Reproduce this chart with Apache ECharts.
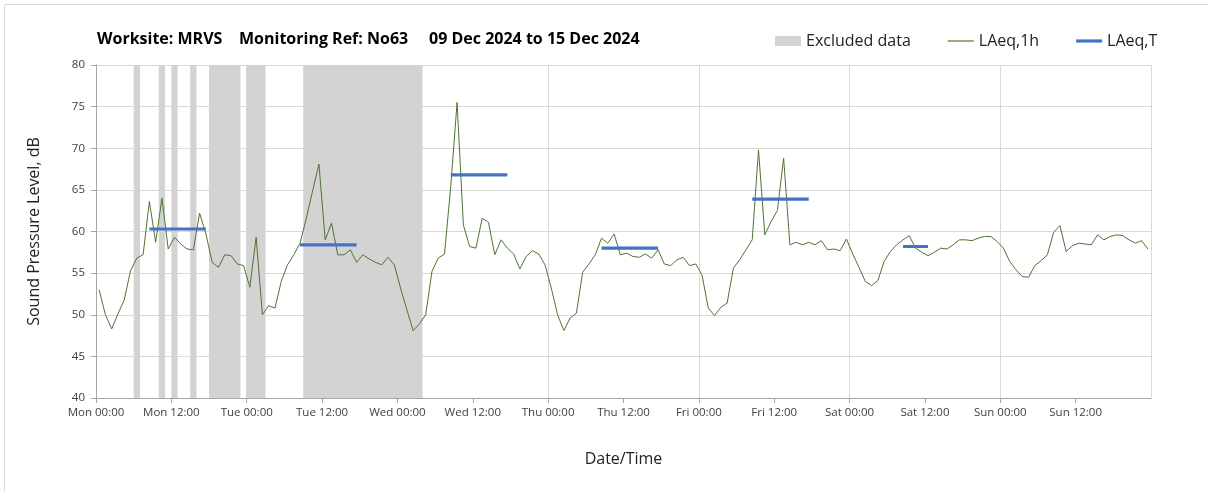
<!DOCTYPE html>
<html>
<head>
<meta charset="utf-8">
<script src="https://cdn.jsdelivr.net/npm/echarts@6/dist/echarts.min.js"></script>
<style>
html,body{margin:0;padding:0;background:#fff;}
#chart{width:1208px;height:492px;}
</style>
</head>
<body>
<div id="chart"></div>
<script>
// ---- data ----
const dayNames = ['Mon', 'Tue', 'Wed', 'Thu', 'Fri', 'Sat', 'Sun'];
const yTicks = [40, 45, 50, 55, 60, 65, 70, 75, 80];
// hourly LAeq,1h values, hour index 0..167 from Mon 00:00
const laeq1h = [
  53.0, 50.0, 48.3, 50.1, 51.8, 55.3, 56.8, 57.2, 63.6, 58.7,
  64.0, 57.9, 59.3, 58.5, 57.9, 57.8, 62.2, 59.7, 56.3, 55.7,
  57.2, 57.1, 56.1, 55.9, 53.3, 59.3, 50.0, 51.1, 50.8, 54.0,
  56.0, 57.2, 58.6, 61.6, 64.9, 68.1, 59.0, 61.0, 57.2, 57.2,
  57.8, 56.3, 57.2, 56.7, 56.3, 56.0, 56.9, 56.0, 53.2, 50.6,
  48.1, 48.9, 50.0, 55.2, 56.8, 57.3, 65.5, 75.5, 60.8, 58.2,
  58.0, 61.6, 61.1, 57.2, 59.0, 58.0, 57.3, 55.5, 57.0, 57.7,
  57.3, 56.0, 53.2, 50.0, 48.1, 49.6, 50.2, 55.1, 56.1, 57.2,
  59.2, 58.6, 59.7, 57.2, 57.4, 57.0, 56.9, 57.3, 56.8, 57.8,
  56.1, 55.9, 56.6, 56.9, 55.9, 56.1, 54.8, 50.8, 49.9, 50.9,
  51.4, 55.6, 56.6, 57.8, 59.0, 69.8, 59.6, 61.2, 62.5, 68.8,
  58.4, 58.7, 58.4, 58.7, 58.4, 58.9, 57.8, 57.9, 57.7, 59.1,
  57.3, 55.7, 54.0, 53.5, 54.1, 56.4, 57.6, 58.4, 59.0, 59.5,
  58.0, 57.5, 57.1, 57.5, 58.0, 57.9, 58.4, 59.0, 59.0, 58.9,
  59.2, 59.4, 59.4, 58.8, 58.0, 56.4, 55.4, 54.6, 54.5, 55.9,
  56.5, 57.2, 59.9, 60.7, 57.6, 58.3, 58.6, 58.5, 58.4, 59.6,
  59.0, 59.4, 59.6, 59.5, 59.0, 58.6, 58.9, 57.9
];
// excluded periods [startHour, endHour]
const excludedRanges = [[6, 7], [10, 11], [12, 13], [15, 16], [18, 23], [24, 27], [33, 52]];
// LAeq,T periods
const laeqTStart = [8.5, 32.5, 56.5, 80.5, 104.5, 128.5];
const laeqTEnd = [17.5, 41.5, 65.5, 89.5, 113.5, 132.5];
const laeqTValue = [60.3, 58.4, 66.8, 58.0, 63.9, 58.2];

// ---- chart ----
const FONT = 'Open Sans';
const chart = echarts.init(document.getElementById('chart'));

const lineData = laeq1h.map((v, i) => [i + 0.5, v]);

const tSeries = laeqTValue.map((v, k) => ({
  name: 'LAeq,T',
  type: 'line',
  xAxisIndex: 0,
  symbol: 'none',
  showSymbol: false,
  silent: true,
  z: 4,
  lineStyle: { color: '#4472C4', width: 3.2 },
  itemStyle: { color: '#4472C4' },
  data: [[laeqTStart[k], v], [laeqTEnd[k], v]]
}));

const option = {
  animation: false,
  backgroundColor: '#ffffff',
  textStyle: { fontFamily: FONT },
  graphic: [{
    type: 'rect',
    shape: { x: 4.5, y: 4.5, width: 1220, height: 520 },
    style: { fill: 'none', stroke: '#d9d9d9', lineWidth: 1 },
    silent: true, z: -10
  }],
  title: {
    text: 'Worksite: MRVS    Monitoring Ref: No63     09 Dec 2024 to 15 Dec 2024',
    left: 92, top: 26,
    textStyle: { fontFamily: FONT, fontSize: 16, fontWeight: 'bold', color: '#000' }
  },
  legend: {
    left: 770, top: 28,
    itemWidth: 26, itemHeight: 10, itemGap: 37,
    textStyle: { fontFamily: FONT, fontSize: 16, color: '#222', padding: [0, 0, 0, 0] },
    data: [
      { name: 'Excluded data', icon: 'rect' },
      { name: 'LAeq,1h', icon: 'path://M0,0h26v1.2h-26z' },
      { name: 'LAeq,T', icon: 'path://M0,0h26v3.2h-26z' }
    ]
  },
  grid: { left: 96, right: 57, top: 65, bottom: 94, containLabel: false },
  xAxis: [{
    type: 'value', min: 0, max: 168, interval: 12,
    name: 'Date/Time', nameLocation: 'middle', nameGap: 53,
    nameTextStyle: { fontFamily: FONT, fontSize: 16, color: '#222' },
    axisLine: { show: true, lineStyle: { color: '#a6a6a6', width: 1 } },
    axisTick: { show: true, length: 5, lineStyle: { color: '#a6a6a6' } },
    axisLabel: {
      fontFamily: FONT, fontSize: 11.5, color: '#404040', margin: 9,
      showMaxLabel: false,
      formatter: v => {
        const d = Math.floor(v / 24);
        if (d > 6) return '';
        return dayNames[d] + (v % 24 === 0 ? ' 00:00' : ' 12:00');
      }
    },
    splitLine: { show: false }
  }, {
    type: 'value', min: 0, max: 168, interval: 24, position: 'bottom',
    axisLine: { show: false }, axisTick: { show: false }, axisLabel: { show: false },
    splitLine: { show: true, lineStyle: { color: '#d9d9d9', width: 1 } }
  }],
  yAxis: {
    type: 'value', min: yTicks[0], max: yTicks[yTicks.length - 1], interval: 5,
    name: 'Sound Pressure Level, dB', nameLocation: 'middle', nameGap: 54, nameRotate: 90,
    nameTextStyle: { fontFamily: FONT, fontSize: 16, color: '#222' },
    axisLine: { show: true, lineStyle: { color: '#a6a6a6', width: 1 } },
    axisTick: { show: true, length: 5, lineStyle: { color: '#a6a6a6' } },
    axisLabel: { fontFamily: FONT, fontSize: 11.5, color: '#404040', margin: 11 },
    splitLine: { show: true, lineStyle: { color: '#d9d9d9', width: 1 } }
  },
  series: [{
    name: 'Excluded data',
    type: 'custom',
    xAxisIndex: 0,
    silent: true,
    z: 1,
    itemStyle: { color: '#d3d3d3' },
    encode: { x: [0, 1] },
    data: excludedRanges,
    renderItem: (params, api) => {
      const s = api.coord([api.value(0), yTicks[yTicks.length - 1]]);
      const e = api.coord([api.value(1), yTicks[0]]);
      return {
        type: 'rect',
        shape: { x: s[0], y: s[1], width: e[0] - s[0], height: e[1] - s[1] },
        style: { fill: '#d3d3d3' }
      };
    }
  }, {
    name: 'LAeq,1h',
    type: 'line',
    xAxisIndex: 0,
    symbol: 'none',
    showSymbol: false,
    silent: true,
    z: 3,
    lineStyle: { color: '#4e7434', width: 1 },
    itemStyle: { color: '#4e7434' },
    data: lineData
  }].concat(tSeries)
};
chart.setOption(option);
</script>
</body>
</html>
